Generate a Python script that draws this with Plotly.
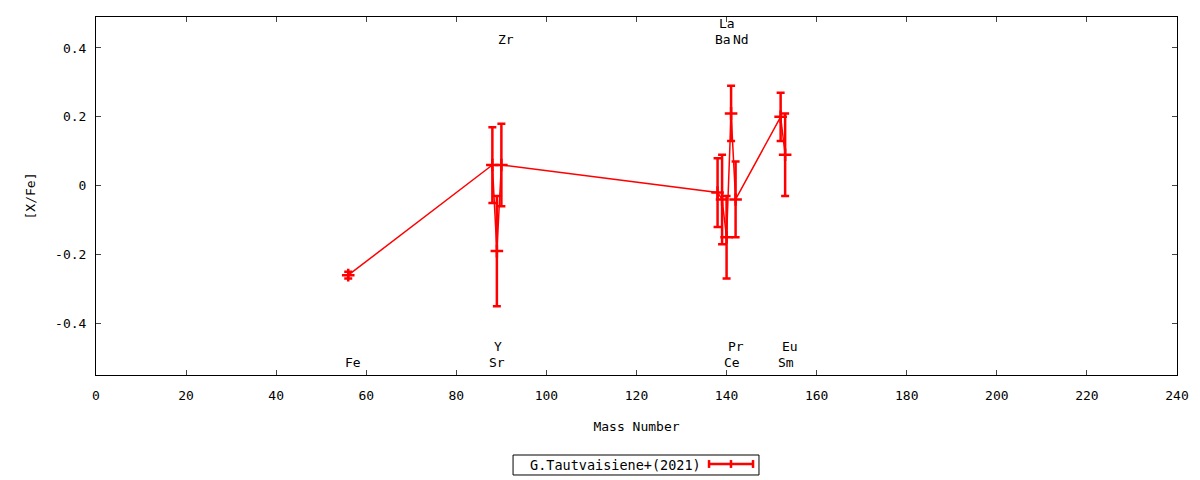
import plotly.graph_objects as go

# ---- data ----
elements = ["Fe", "Sr", "Y", "Zr", "Ba", "La", "Ce", "Pr", "Nd", "Sm", "Eu"]
mass_number = [56, 88, 89, 90, 138, 139, 140, 141, 142, 152, 153]
x_fe = [-0.26, 0.06, -0.19, 0.06, -0.02, -0.04, -0.15, 0.21, -0.04, 0.20, 0.09]
x_fe_err = [0.01, 0.11, 0.16, 0.12, 0.10, 0.13, 0.12, 0.08, 0.11, 0.07, 0.12]
label_y = [-0.515, -0.515, -0.468, 0.425, 0.425, 0.472, -0.515, -0.468, 0.425, -0.515, -0.468]

series_name = "G.Tautvaisiene+(2021)"
x_ticks = [0, 20, 40, 60, 80, 100, 120, 140, 160, 180, 200, 220, 240]
y_ticks = [-0.4, -0.2, 0, 0.2, 0.4]
y_tick_text = ["-0.4", "-0.2", "0", "0.2", "0.4"]

RED = "#ff0000"
FONT = "DejaVu Sans Mono"
FS = 13

fig = go.Figure()
fig.add_trace(go.Scatter(
    x=mass_number, y=x_fe,
    mode="lines+markers",
    name=series_name,
    line=dict(color=RED, width=1.5),
    marker=dict(symbol="cross-thin", size=9, color=RED,
                line=dict(color=RED, width=2.5)),
    error_y=dict(type="data", array=x_fe_err, visible=True,
                 color=RED, thickness=2.5, width=4),
    showlegend=False,
))

# element labels
for el, m, ly in zip(elements, mass_number, label_y):
    fig.add_annotation(x=m, y=ly, text=el, showarrow=False,
                       xanchor="left", yanchor="middle", xshift=-4,
                       borderpad=0,
                       font=dict(family=FONT, size=FS, color="black"))

# custom legend (text left, sample right, boxed) like gnuplot
fig.add_shape(type="rect", xref="paper", yref="paper",
              x0=0.3858, x1=0.6133, y0=-0.2793, y1=-0.2235,
              line=dict(color="black", width=1), fillcolor="white")
fig.add_annotation(xref="paper", yref="paper", x=0.5606, y=-0.2514,
                   text=series_name, showarrow=False, xanchor="right",
                   yanchor="middle", borderpad=0,
                   font=dict(family=FONT, size=FS + 0.5, color="black"))
ly0 = -0.2486
fig.add_shape(type="line", xref="paper", yref="paper",
              x0=0.5671, x1=0.6078, y0=ly0, y1=ly0,
              line=dict(color=RED, width=2.5))
for xs in (0.5671, 0.5874, 0.6078):
    fig.add_shape(type="line", xref="paper", yref="paper",
                  x0=xs, x1=xs, y0=ly0 - 0.011, y1=ly0 + 0.011,
                  line=dict(color=RED, width=2.5))

fig.update_layout(
    width=1200, height=480,
    margin=dict(l=96, r=23, t=17, b=105),
    paper_bgcolor="white", plot_bgcolor="white",
    font=dict(family=FONT, size=FS, color="black"),
    showlegend=False,
)
fig.update_xaxes(
    range=[0, 240], tickvals=x_ticks, ticks="inside", ticklen=5,
    showline=True, linecolor="black", linewidth=1, mirror="ticks",
    showgrid=False, zeroline=False, ticklabelstandoff=8,
    title=dict(text="Mass Number", standoff=20,
               font=dict(family=FONT, size=FS)),
    tickfont=dict(family=FONT, size=FS),
)
fig.update_yaxes(
    range=[-0.55, 0.49], tickvals=y_ticks, ticktext=y_tick_text,
    ticks="inside", ticklen=5,
    showline=True, linecolor="black", linewidth=1, mirror="ticks",
    showgrid=False, zeroline=False, ticklabelstandoff=6,
    title=dict(text="[X/Fe]", standoff=16,
               font=dict(family=FONT, size=FS)),
    tickfont=dict(family=FONT, size=FS),
)

fig.write_html("out.html",
               config={"displayModeBar": False},
               post_script="document.body.style.margin='0px';document.body.style.padding='0px';")
